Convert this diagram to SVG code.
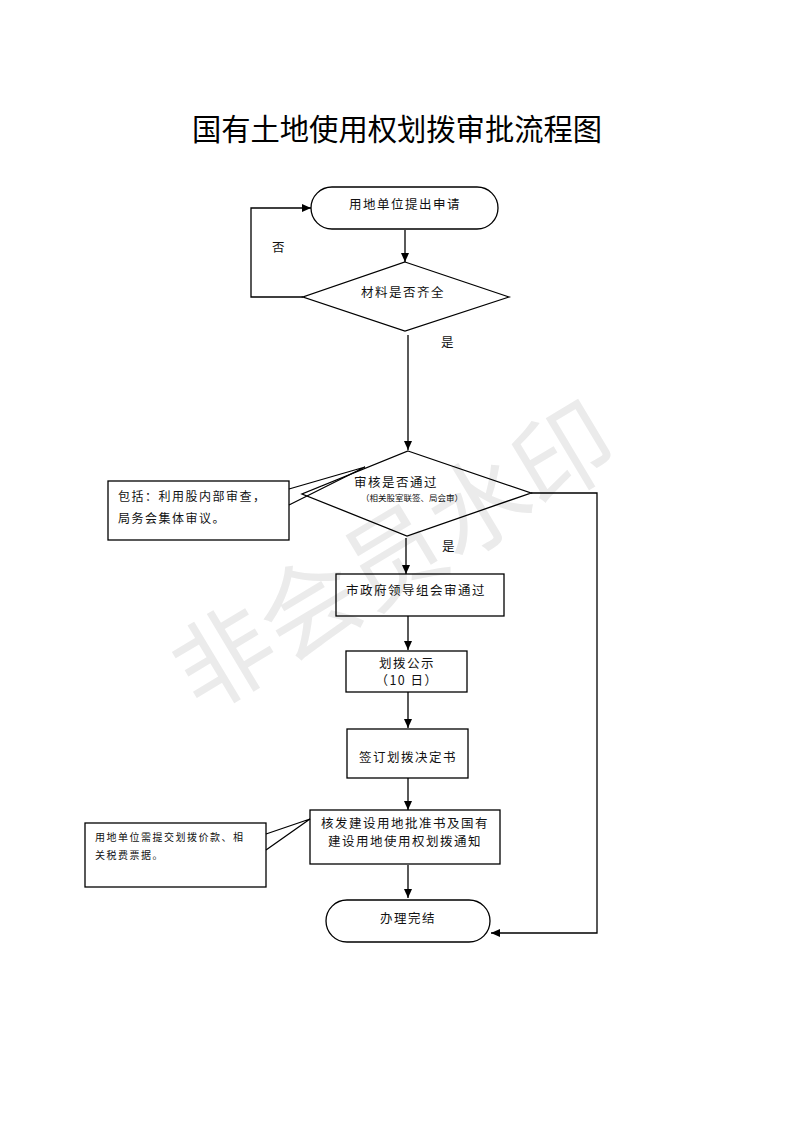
<svg xmlns="http://www.w3.org/2000/svg" width="793" height="1122" viewBox="0 0 793 1122">
<style>
.s{fill:none;stroke:#000;stroke-width:1.3}
.b{fill:none;stroke:#000;stroke-width:1.3}
.c{stroke:#000;stroke-width:1.3;fill:none}
.t{font-family:"Noto Sans CJK SC","Liberation Sans",sans-serif;font-size:12.5px;fill:#111;text-anchor:middle;letter-spacing:1.5px}
.sm{font-size:8.5px;letter-spacing:0}
.n{font-size:12px;letter-spacing:1.5px;text-anchor:start}
.n2{font-size:10px;letter-spacing:1.5px;text-anchor:start}
</style>
<defs>
<marker id="a" markerWidth="10" markerHeight="10" refX="9" refY="5" orient="auto" markerUnits="userSpaceOnUse">
<path d="M0,1 L9,5 L0,9 Z" fill="#000"/>
</marker>
</defs>
<rect width="793" height="1122" fill="#fff"/>
<text x="395" y="592" transform="rotate(-31 395 558)" font-family="Noto Sans CJK SC,sans-serif" font-size="99" fill="#ebebeb" text-anchor="middle">非会员水印</text>
<text x="397" y="140" font-family="Noto Sans CJK SC,sans-serif" font-size="29.3" fill="#000" text-anchor="middle">国有土地使用权划拨审批流程图</text>
<g id="connectors">
<line class="c" x1="405" y1="230" x2="405" y2="262" marker-end="url(#a)"/>
<polyline class="c" points="303,297 251,297 251,208 311,208" marker-end="url(#a)"/>
<line class="c" x1="408" y1="335" x2="408" y2="450" marker-end="url(#a)"/>
<polyline class="c" points="531,493 597,493 597,933 491,933" marker-end="url(#a)"/>
<line class="c" x1="406" y1="538" x2="406" y2="574" marker-end="url(#a)"/>
<line class="c" x1="408" y1="616" x2="408" y2="650" marker-end="url(#a)"/>
<line class="c" x1="408" y1="692" x2="408" y2="728" marker-end="url(#a)"/>
<line class="c" x1="408" y1="778" x2="408" y2="810" marker-end="url(#a)"/>
<line class="c" x1="408" y1="865" x2="408" y2="898" marker-end="url(#a)"/>
<text class="t" x="279" y="252">否</text>
<text class="t" x="448" y="347">是</text>
<text class="t" x="449" y="551">是</text>
</g>
<g id="start">
<rect class="b" x="311" y="187" width="187" height="42" rx="21"/>
<text class="t" x="405" y="209">用地单位提出申请</text>
</g>
<g id="check1">
<polygon class="b" points="405,262 509,297 405,331 303,297"/>
<text class="t" x="403" y="297">材料是否齐全</text>
</g>
<g id="check2">
<polygon class="b" points="408,451 531,493 407,536 302,494"/>
<text class="t" x="396" y="487">审核是否通过</text>
<text class="t sm" x="412" y="501">（相关股室联签、局会审）</text>
</g>
<g id="note1">
<rect class="b" x="108" y="481" width="181" height="59"/>
<polyline class="s" points="289,489 365,467 289,505"/>
<text class="t n" x="118" y="501">包括：利用股内部审查，</text>
<text class="t n" x="118" y="523">局务会集体审议。</text>
</g>
<g id="govt">
<rect class="b" x="336" y="574" width="168" height="42"/>
<text class="t" x="416" y="595">市政府领导组会审通过</text>
</g>
<g id="publicity">
<rect class="b" x="346" y="651" width="121" height="41"/>
<text class="t" x="407" y="668">划拨公示</text>
<text class="t" x="407" y="685" letter-spacing="0">（10 日）</text>
</g>
<g id="decision">
<rect class="b" x="347" y="729" width="121" height="49"/>
<text class="t" x="408" y="762">签订划拨决定书</text>
</g>
<g id="issue">
<rect class="b" x="310" y="810" width="190" height="54"/>
<text class="t" x="405" y="828">核发建设用地批准书及国有</text>
<text class="t" x="405" y="846">建设用地使用权划拨通知</text>
</g>
<g id="note2">
<rect class="b" x="85" y="823" width="181" height="64"/>
<polyline class="s" points="266,834 310,819 266,850"/>
<text class="t n2" x="95" y="841">用地单位需提交划拨价款、相</text>
<text class="t n2" x="95" y="859">关税费票据。</text>
</g>
<g id="end">
<rect class="b" x="326" y="900" width="164" height="42" rx="21"/>
<text class="t" x="408" y="923">办理完结</text>
</g>
</svg>
